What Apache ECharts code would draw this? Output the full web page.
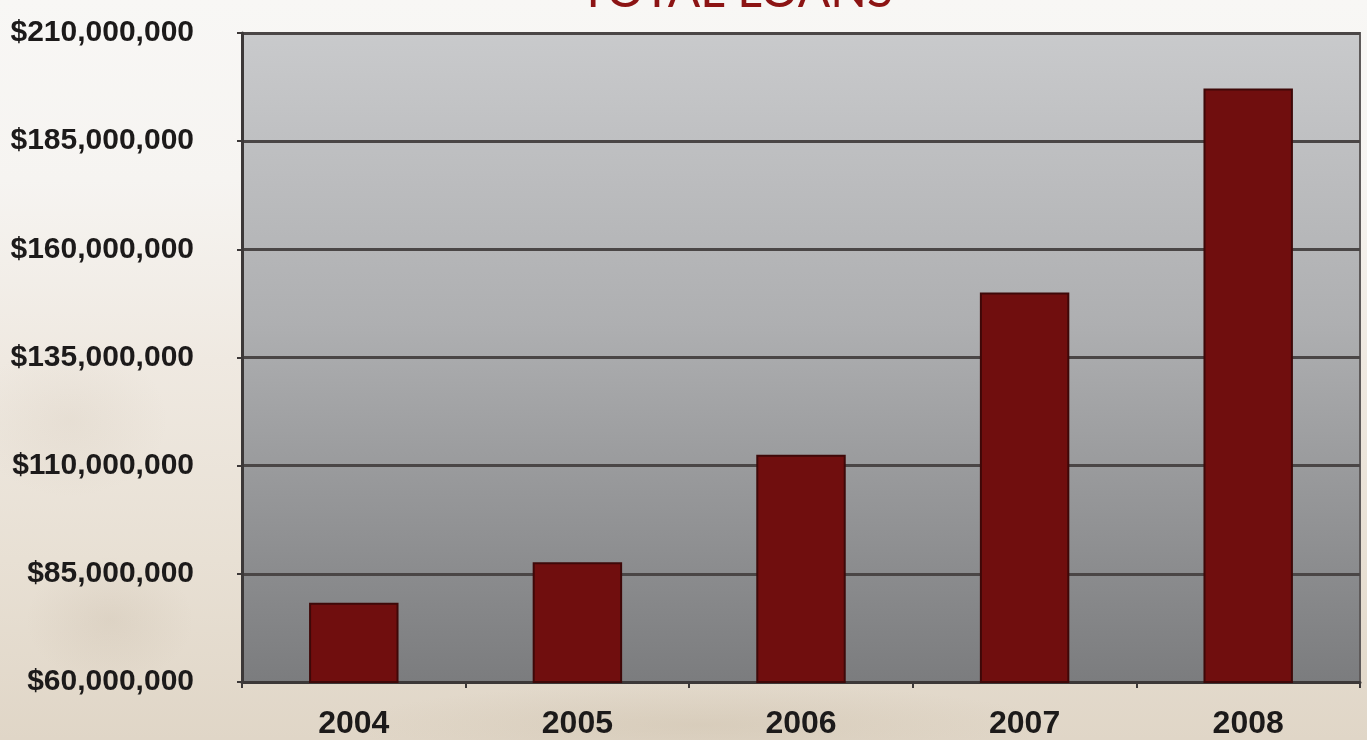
<!DOCTYPE html>
<html>
<head>
<meta charset="utf-8">
<title>Total Loans</title>
<script src="https://cdn.jsdelivr.net/npm/echarts@6/dist/echarts.min.js"></script>
<style>
  html, body { margin: 0; padding: 0; }
  body {
    width: 1367px; height: 740px; overflow: hidden;
    background:
      radial-gradient(ellipse 120px 90px at 110px 620px, rgba(160,140,115,0.12), rgba(160,140,115,0) 70%),
      radial-gradient(ellipse 140px 110px at 70px 420px, rgba(175,155,130,0.10), rgba(175,155,130,0) 70%),
      radial-gradient(ellipse 500px 60px at 700px 725px, rgba(190,175,150,0.25), rgba(190,175,150,0) 70%),
      linear-gradient(to bottom, #f8f7f5 0px, #f6f4f1 180px, #efe9e1 360px, #e8e0d4 560px, #e0d6c7 740px);
  }
  #chart { width: 1367px; height: 740px; }
</style>
</head>
<body>
<div id="chart"></div>
<script>
// Total loans by year
const years = ['2004', '2005', '2006', '2007', '2008'];
const totalLoans = [78300000, 87700000, 112500000, 150000000, 197200000];
const axisMin = 60000000;
const axisMax = 210000000;
const axisStep = 25000000;

function money(v) {
  return '$' + v.toLocaleString('en-US');
}

const chart = echarts.init(document.getElementById('chart'), null, { renderer: 'canvas' });

chart.setOption({
  backgroundColor: 'transparent',
  animation: false,
  title: {
    text: 'TOTAL LOANS',
    left: 731,
    textAlign: 'center',
    top: -37,
    textStyle: {
      fontFamily: 'Lato',
      fontWeight: 'normal',
      fontSize: 48,
      color: '#8c1414'
    }
  },
  grid: {
    left: 242,
    right: 7,
    top: 33,
    bottom: 57,
    show: true,
    borderColor: '#5e5a5a',
    borderWidth: 2,
    backgroundColor: {
      type: 'linear', x: 0, y: 0, x2: 0, y2: 1,
      colorStops: [
        { offset: 0, color: '#c9cacc' },
        { offset: 0.45, color: '#aeafb1' },
        { offset: 1, color: '#7b7c7e' }
      ]
    }
  },
  xAxis: {
    type: 'category',
    data: years,
    axisLine: { lineStyle: { color: '#3c3838', width: 3 } },
    axisTick: { show: true, alignWithLabel: false, length: 6, lineStyle: { color: '#3c3838', width: 2 } },
    axisLabel: {
      margin: 26,
      fontFamily: 'Liberation Sans',
      fontWeight: 'bold',
      fontSize: 32,
      color: '#1c1a1a'
    }
  },
  yAxis: {
    type: 'value',
    min: axisMin,
    max: axisMax,
    interval: axisStep,
    axisLine: { show: true, lineStyle: { color: '#3c3838', width: 3 } },
    axisTick: { show: true, length: 5, lineStyle: { color: '#3c3838', width: 2 } },
    splitLine: { lineStyle: { color: '#4a4646', width: 3 } },
    axisLabel: {
      margin: 48,
      formatter: money,
      fontFamily: 'Liberation Sans',
      fontWeight: 'bold',
      fontSize: 30,
      color: '#1c1a1a'
    }
  },
  series: [{
    type: 'bar',
    data: totalLoans,
    barWidth: '40%',
    itemStyle: {
      color: '#700e0e',
      borderColor: '#3e0808',
      borderWidth: 2
    }
  }]
});
</script>
</body>
</html>
